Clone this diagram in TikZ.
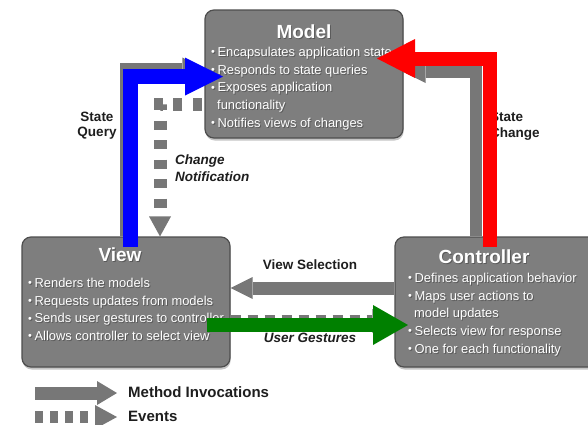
\documentclass[tikz,border=0pt]{standalone}
\usepackage{fontspec}
\usepackage{graphicx}
\setmainfont{Liberation Sans}
\usetikzlibrary{arrows.meta,shadows}

\definecolor{boxgray}{HTML}{7E7E7E}
\definecolor{boxedge}{HTML}{4E4E4E}
\definecolor{arrowgray}{HTML}{777777}
\definecolor{labelink}{HTML}{1E1E1E}
\definecolor{queryblue}{HTML}{0000FF}
\definecolor{changered}{HTML}{FF0000}
\definecolor{gesturegreen}{HTML}{008000}

% white text with a dark offset copy behind it
\newcommand\shadowtext[1]{\rlap{\kern0.9pt\raisebox{-0.9pt}{\textcolor{black!65}{#1}}}#1}
\newcommand\bul{\raisebox{0.8pt}{\scalebox{0.85}{•}}\hspace{2.6pt}}

\tikzset{
  mvcbox/.style={draw=boxedge, line width=1.2pt, fill=boxgray, rounded corners=9pt,
    drop shadow={shadow xshift=0.6pt, shadow yshift=-2.5pt, opacity=0.45}},
  boxtitle/.style={text=white, font=\fontsize{19}{22}\selectfont\bfseries, inner sep=0pt},
  bullets/.style={text=white, font=\fontsize{12.9}{17.6}\selectfont, align=left,
    inner sep=0pt, anchor=north west},
  lbl/.style={text=labelink, font=\fontsize{13.5}{15.5}\selectfont\bfseries,
    inner sep=0pt, align=center},
  legendtxt/.style={text=labelink, font=\fontsize{15}{17}\selectfont\bfseries,
    inner sep=0pt, anchor=west},
  call/.style={draw=arrowgray, line width=13pt,
    -{Triangle[length=22pt,width=24pt,line width=0pt]}},
  event/.style={call, dash pattern=on 9pt off 10.5pt},
  queryarrow/.style={draw=queryblue, line width=14.5pt,
    -{Triangle[length=38pt,width=38pt,line width=0pt]}},
  changearrow/.style={draw=changered, line width=14pt,
    -{Triangle[length=38pt,width=39pt,line width=0pt]}},
  gesturearrow/.style={draw=gesturegreen, line width=14pt,
    -{Triangle[length=35pt,width=40pt,line width=0pt]}},
}

\begin{document}
\begin{tikzpicture}[x=1pt,y=-1pt]
\useasboundingbox (0,0) rectangle (588,424);
\fill[white] (0,0) rectangle (588,424);

% the three boxes
\node[mvcbox, minimum width=198pt, minimum height=128pt] (model) at (304,74) {};
\node[mvcbox, minimum width=208pt, minimum height=130pt] (view) at (126,302) {};
\node[mvcbox, minimum width=215pt, minimum height=130pt] (controller) at (502.5,302) {};

% method invocations and events between the boxes
\draw[call] (126.5,0 |- view.north) |- (model.west |- 0,69.5);
\draw[call, line width=12pt, -{Triangle[length=22pt,width=22pt,line width=0pt]}]
  (476,0 |- controller.north) |- (model.east |- 0,72);
\draw[event, dash phase=17pt, -{Triangle[length=20pt,width=22pt,line width=0pt]}]
  (model.west |- 0,104) -| (160,0 |- view.north);
\draw[call, -{Triangle[length=22pt,width=22pt,line width=0pt]}]
  (controller.west |- 0,288) -- (view.east |- 0,288);
\draw[event, dash pattern=on 10pt off 7pt]
  (view.east |- 0,321) -- (controller.west |- 0,321);

% box titles and bullet lists
\node[boxtitle] (modeltitle) at (304,32.5) {\shadowtext{Model}};
\node[boxtitle] (viewtitle) at (120,255.5) {\shadowtext{View}};
\node[boxtitle] (controllertitle) at (484,257.5) {\shadowtext{Controller}};

\node[bullets] (modeltext) at (211,47.2) {%
  \shadowtext{\bul Encapsulates application state}\\
  \shadowtext{\bul Responds to state queries}\\
  \shadowtext{\bul Exposes application}\\
  \shadowtext{\hspace{6pt}functionality}\\
  \shadowtext{\bul Notifies views of changes}};
\node[bullets] (viewtext) at (28,278.2) {%
  \shadowtext{\bul Renders the models}\\
  \shadowtext{\bul Requests updates from models}\\
  \shadowtext{\bul Sends user gestures to controller}\\
  \shadowtext{\bul Allows controller to select view}};
\node[bullets] (controllertext) at (408,273.2) {%
  \shadowtext{\bul Defines application behavior}\\
  \shadowtext{\bul Maps user actions to}\\
  \shadowtext{\hspace{6pt}model updates}\\
  \shadowtext{\bul Selects view for response}\\
  \shadowtext{\bul One for each functionality}};

% connector labels
\node[lbl] (sqlabel) at (97,125.5) {State\\Query};
\node[lbl, font=\fontsize{13.5}{17}\selectfont\bfseries\itshape, align=left, anchor=west]
  (cnlabel) at (175,168) {Change\\Notification};
\node[lbl, align=left, anchor=west] (sclabel) at (490,126) {State\\Change};
\node[lbl] (vslabel) at (310,265) {View Selection};
\node[lbl, font=\fontsize{13.5}{15.5}\selectfont\bfseries\itshape] (uglabel) at (310,338) {User Gestures};

% highlighted flows
\coordinate (q0) at (130.5,247);
\coordinate (q1) at (223,76.5);
\draw[queryarrow] (q0) |- (q1);
\coordinate (c0) at (489.5,247);
\coordinate (c1) at (377,58.5);
\draw[changearrow] (c0) |- (c1);
\coordinate (g0) at (207,325);
\coordinate (g1) at (408,325);
\draw[gesturearrow] (g0) -- (g1);

% legend
\coordinate (m0) at (35,393);
\coordinate (m1) at (117,393);
\draw[call, -{Triangle[length=20pt,width=24pt,line width=0pt]}] (m0) -- (m1);
\node[legendtxt] (milabel) at (128,392) {Method Invocations};
\coordinate (e0) at (35,417);
\coordinate (e1) at (117,417);
\draw[event, line width=12pt, dash pattern=on 8pt off 7pt] (e0) -- (e1);
\node[legendtxt] (evlabel) at (128,416) {Events};
\end{tikzpicture}
\end{document}
